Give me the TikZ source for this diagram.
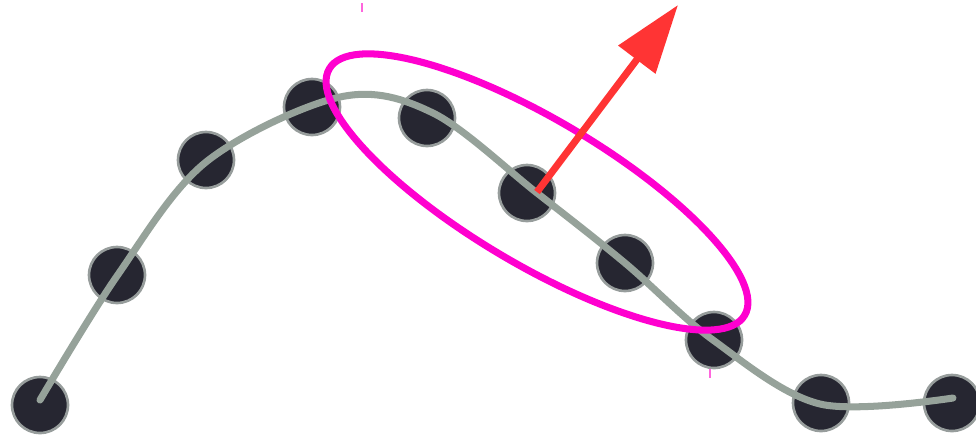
\documentclass[tikz,border=0pt]{standalone}
\usepackage{xcolor}
\usetikzlibrary{arrows.meta,calc}

\definecolor{dotfill}{HTML}{262631}
\definecolor{dotrim}{HTML}{979D9C}
\definecolor{curvegray}{HTML}{96A29A}
\definecolor{fitpink}{HTML}{FF00CF}
\definecolor{normred}{HTML}{FF3434}
\definecolor{tickpink}{HTML}{FF66DD}

\begin{document}
\begin{tikzpicture}[x=0.02cm,y=-0.02cm,
    sample/.style={circle,fill=dotfill,draw=dotrim,line width=1.5pt,minimum size=1.12cm,inner sep=0pt},
    spline/.style={curvegray,line width=4pt,line cap=round},
    fit/.style={fitpink,line width=4pt},
    normal/.style={normred,line width=4pt,-{Triangle[length=1.37cm,width=0.9cm]}},
    tick/.style={tickpink,line width=1.1pt}]
    \useasboundingbox (0,0) rectangle (976,437);
    % sample points
    \node[sample] (p1) at (40,405) {};
    \node[sample] (p2) at (117,275) {};
    \node[sample] (p3) at (206,160) {};
    \node[sample] (p4) at (312,107) {};
    \node[sample] (p5) at (427,118) {};
    \node[sample] (p6) at (527,193) {};
    \node[sample] (p7) at (625,263) {};
    \node[sample] (p8) at (714,340) {};
    \node[sample] (p9) at (821,403) {};
    \node[sample] (p10) at (952,403) {};
    % fitted curve on top of the points
    \draw[spline] plot[smooth,tension=0.55] coordinates {(40,400) (117,276) (206,162) (340,97)
      (433,113) (537,193) (625,263) (713,340) (820,404) (953,398)};
    % local neighbourhood
    \coordinate (c) at (537,192);
    \draw[fit,rotate around={-30.7:(c)}] (c) ellipse [x radius=241.5,y radius=72.4];
    % normal direction
    \coordinate (tip) at (678,5);
    \draw[normal] (c) -- (tip);
    % small marks
    \draw[tick] (362,3) -- (362,12);
    \draw[tick] (710,369) -- (710,378);
\end{tikzpicture}
\end{document}
